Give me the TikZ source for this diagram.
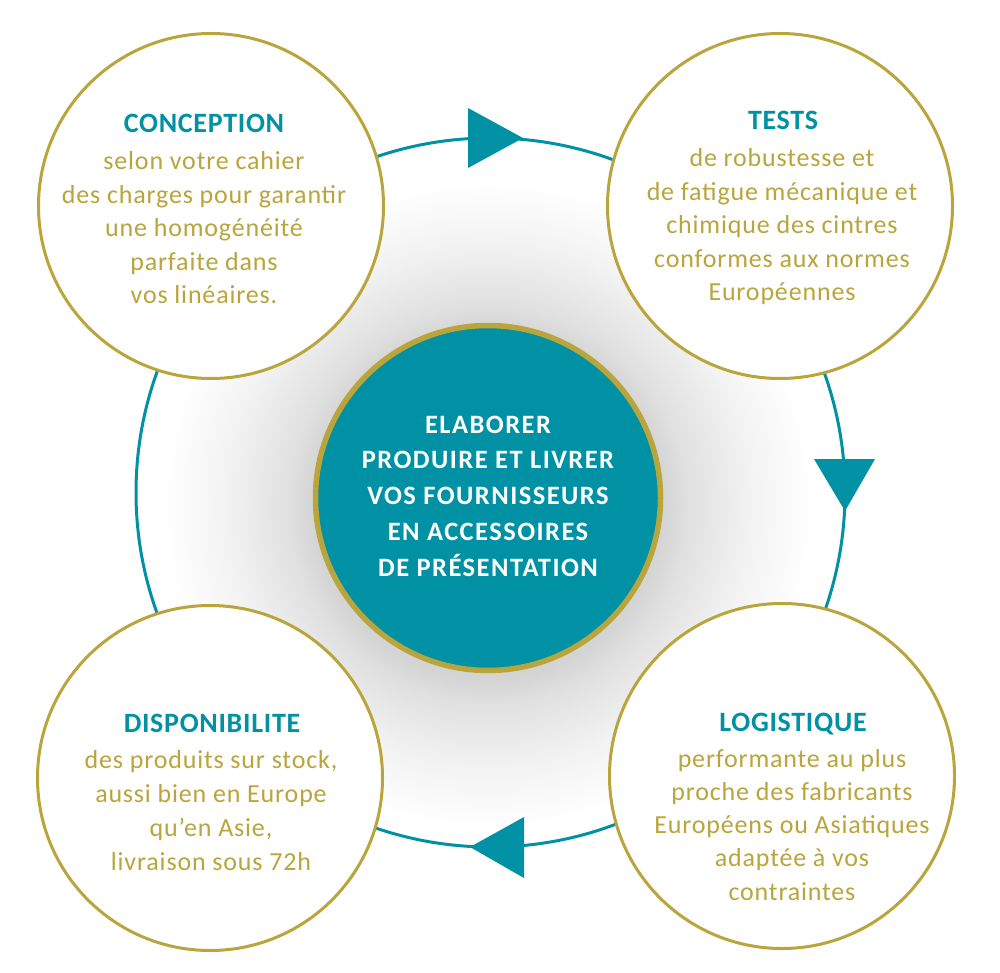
\documentclass[tikz,border=0pt]{standalone}
\usepackage{fontspec}
\setmainfont{Carlito}
\newfontfamily\bodyf[LetterSpace=3.2]{Carlito}
\newfontfamily\ttlf[LetterSpace=2.5]{Carlito}
\newfontfamily\hubf[LetterSpace=5.5]{Carlito}
\definecolor{myteal}{HTML}{0092A4}
\definecolor{gold}{HTML}{BAA43C}
\pgfdeclareradialshading{glow}{\pgfpoint{0bp}{0bp}}{color(0bp)=(black!17); color(12.6bp)=(black!17); color(14.5bp)=(black!12); color(19bp)=(black!5); color(23.5bp)=(white); color(50bp)=(white)}
\begin{document}
\begin{tikzpicture}[x=1pt,y=-1pt,
  outer/.style={circle, draw=gold, line width=3pt, fill=white, minimum size=345pt, inner sep=0pt},
  hubc/.style={circle, draw=gold, line width=5.5pt, fill=myteal, minimum size=345pt, inner sep=0pt},
  ttl/.style={anchor=base, inner sep=0pt, font=\ttlf\fontsize{28}{30}\selectfont\bfseries, text=myteal},
  body/.style={anchor=base, inner sep=0pt, font=\bodyf\fontsize{26}{30}\selectfont, text=gold},
  hubtxt/.style={anchor=base, inner sep=0pt, font=\hubf\fontsize{26.5}{30}\selectfont\bfseries, text=white},
  ring/.style={draw=myteal, line width=3pt},
  tip/.style={fill=myteal}]
\useasboundingbox (0,0) rectangle (1000,973);
% shadow glow
\shade[shading=glow] (488,505) circle (345pt);
% ring
\coordinate (rc) at (490.5,492.5);
\draw[ring] (rc) circle (354.5pt);
% arrow heads
\fill[tip] (468,108) -- (468,168) -- (523,138) -- cycle;
\fill[tip] (814,459) -- (875,459) -- (845,511) -- cycle;
\fill[tip] (524,817) -- (524,878) -- (470,847) -- cycle;
% outer circles
\node[outer] (conc) at (211,206) {};
\node[outer] (tests) at (780,206) {};
\node[outer] (dispo) at (210,778) {};
\node[outer] (logi) at (782,776) {};
% hub
\node[hubc] (hub) at (488,498) {};
% texts
\node[ttl] (conc-t) at (204,133) {CONCEPTION};
\foreach \t [count=\i] in {selon votre cahier, des charges pour garantir, une homogénéité, parfaite dans, vos linéaires.}
  \node[body] (conc-\i) at (204,{170+33.5*(\i-1)}) {\t};
\node[ttl] (tests-t) at (783,130) {TESTS};
\foreach \t [count=\i] in {de robustesse et, de fatigue mécanique et, chimique des cintres, conformes aux normes, Européennes}
  \node[body] (tests-\i) at (782,{167+33.5*(\i-1)}) {\t};
\node[ttl] (dispo-t) at (212,732) {DISPONIBILITE};
\foreach \t [count=\i] in {{des produits sur stock,}, aussi bien en Europe, {qu’en Asie,}, livraison sous 72h}
  \node[body] (dispo-\i) at (211,{768+34*(\i-1)}) {\t};
\node[ttl] (logi-t) at (793,731) {LOGISTIQUE};
\foreach \t [count=\i] in {performante au plus, proche des fabricants, Européens ou Asiatiques, adaptée à vos, contraintes}
  \node[body] (logi-\i) at (792,{767+33.3*(\i-1)}) {\t};
\foreach \t [count=\i] in {ELABORER, PRODUIRE ET LIVRER, VOS FOURNISSEURS, EN ACCESSOIRES, DE PRÉSENTATION}
  \node[hubtxt] (hub-\i) at (488,{433+35.8*(\i-1)}) {\t};
\end{tikzpicture}
\end{document}
